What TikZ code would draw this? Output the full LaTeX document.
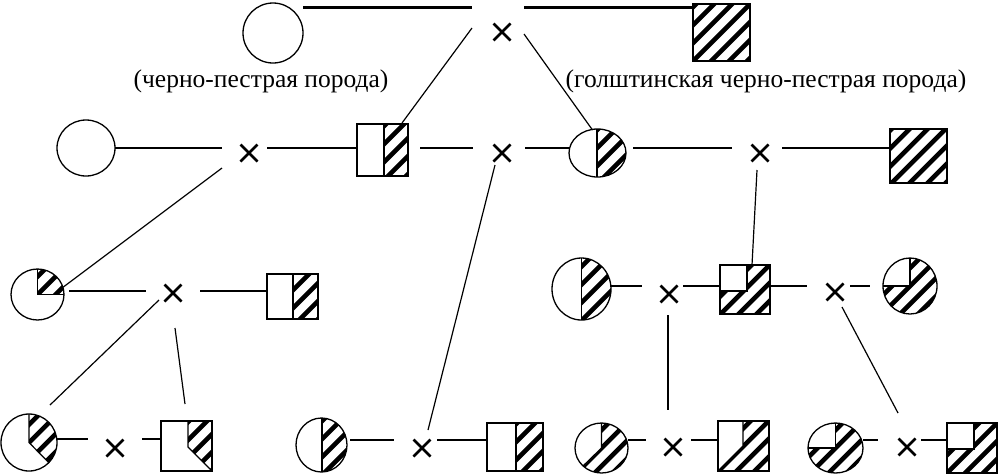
\documentclass[tikz,border=0pt]{standalone}
\usepackage{fontspec}
\setmainfont{Liberation Serif}
\usetikzlibrary{shapes.geometric,shapes.misc,calc}
\tikzset{
  crossmark/.style={cross out, draw, line width=2.6pt, minimum size=17pt, inner sep=0pt, outer sep=0pt},
  sq/.style={rectangle, draw, line width=2pt, inner sep=0pt, outer sep=0pt},
  circ/.style={ellipse, draw, line width=1.3pt, inner sep=0pt, outer sep=0pt},
  conn/.style={line width=1.6pt},
  diag/.style={line width=1.2pt},
  heavy/.style={line width=3pt},
  hatchline/.style={line width=4.6pt},
  divline/.style={line width=1.2pt},
  lbl/.style={font=\fontsize{25.5}{30}\selectfont, inner sep=0pt},
}
\newcommand{\hatchat}[2]{\foreach \k in {-108,-90,...,108}{\draw[hatchline] ({#1+\k-70},{#2+70}) -- ({#1+\k+70},{#2-70});}}
\begin{document}
\begin{tikzpicture}[x=1pt,y=-1pt]
\useasboundingbox (0,0) rectangle (998,475);

% ---------- hatching ----------
\begin{scope}\clip (693,4) rectangle (750,61); \hatchat{721.5}{32.5}\end{scope}
\begin{scope}\clip (384,124) rectangle (408,176); \hatchat{396}{150}\end{scope}
\begin{scope}\clip (597.5,153) ellipse [x radius=28.5, y radius=24]; \clip (597,100) rectangle (640,200); \hatchat{610}{153}\end{scope}
\begin{scope}\clip (890,129) rectangle (947,183); \hatchat{918.5}{156}\end{scope}
\begin{scope}\clip (37.5,294.5) ellipse [x radius=26.5, y radius=25.5]; \clip (37.5,294.5) rectangle (70,260); \hatchat{50}{282}\end{scope}
\begin{scope}\clip (293,274) rectangle (318,319); \hatchat{305}{296}\end{scope}
\begin{scope}\clip (581.5,289) ellipse [x radius=29.5, y radius=31]; \clip (581.5,250) rectangle (620,330); \hatchat{595}{289}\end{scope}
\begin{scope}\clip (720,291) -- (747,291) -- (747,265) -- (770,265) -- (770,314) -- (720,314) -- cycle; \hatchat{745}{289.5}\end{scope}
\begin{scope}\clip (910,286) ellipse [x radius=27, y radius=28]; \clip (910,286) -- (910,250) -- (950,250) -- (950,320) -- (870,320) -- (870,286) -- cycle; \hatchat{910}{286}\end{scope}
\begin{scope}\clip (29,442.5) ellipse [x radius=28, y radius=28.5]; \clip (29,442.5) -- (29,400) -- (80,400) -- (80,493.5) -- cycle; \hatchat{29}{442.5}\end{scope}
\begin{scope}\clip (188,421) -- (212,421) -- (212,471) -- (188,447) -- cycle; \hatchat{200}{446}\end{scope}
\begin{scope}\clip (321.5,445) ellipse [x radius=25.5, y radius=27]; \clip (322,410) rectangle (350,480); \hatchat{334}{445}\end{scope}
\begin{scope}\clip (516,423) rectangle (543,471); \hatchat{529}{447}\end{scope}
\begin{scope}\clip (601.5,448) ellipse [x radius=26.5, y radius=25]; \clip (601.5,448) -- (601.5,410) -- (640,410) -- (640,490) -- (561.5,488) -- cycle; \hatchat{601.5}{448}\end{scope}
\begin{scope}\clip (743,421) -- (769,421) -- (769,471) -- (718,471) -- (743,446) -- cycle; \hatchat{743.5}{446}\end{scope}
\begin{scope}\clip (835.5,448) ellipse [x radius=27.5, y radius=25]; \clip (835.5,448) -- (835.5,410) -- (880,410) -- (880,490) -- (790,490) -- (790,448) -- cycle; \hatchat{835.5}{448}\end{scope}
\begin{scope}\clip (947,449) -- (974,449) -- (974,423) -- (997,423) -- (997,473) -- (947,473) -- cycle; \hatchat{972}{448}\end{scope}

% ---------- shapes ----------
\node[circ, minimum width=60pt, minimum height=60pt] (p1) at (273,33) {};
\node[sq, minimum width=57pt, minimum height=57pt] (p2) at (721.5,32.5) {};
\node[lbl] (l1) at (261,81) {(черно-пестрая порода)};
\node[lbl] (l2) at (766,81) {(голштинская черно-пестрая порода)};

\node[circ, minimum width=58pt, minimum height=56pt] (c2a) at (86,148) {};
\node[sq, minimum width=51pt, minimum height=52pt] (s2a) at (382.5,150) {};
\node[circ, minimum width=57pt, minimum height=48pt] (c2b) at (597.5,153) {};
\node[sq, minimum width=57pt, minimum height=54pt] (s2b) at (918.5,156) {};

\node[circ, minimum width=53pt, minimum height=51pt] (c3a) at (37.5,294.5) {};
\node[sq, minimum width=51pt, minimum height=45pt] (s3a) at (292.5,296.5) {};
\node[circ, minimum width=59pt, minimum height=62pt] (c3b) at (581.5,289) {};
\node[sq, minimum width=50pt, minimum height=49pt] (s3b) at (745,289.5) {};
\node[circ, minimum width=54pt, minimum height=56pt] (c3c) at (910,286) {};

\node[circ, minimum width=56pt, minimum height=57pt] (c4a) at (29,442.5) {};
\node[sq, minimum width=51pt, minimum height=50pt] (s4a) at (186.5,446) {};
\node[circ, minimum width=51pt, minimum height=54pt] (c4b) at (321.5,445) {};
\node[sq, minimum width=56pt, minimum height=48pt] (s4b) at (515,447) {};
\node[circ, minimum width=53pt, minimum height=50pt] (c4c) at (601.5,448) {};
\node[sq, minimum width=51pt, minimum height=50pt] (s4c) at (743.5,446) {};
\node[circ, minimum width=55pt, minimum height=50pt] (c4d) at (835.5,448) {};
\node[sq, minimum width=50pt, minimum height=50pt] (s4d) at (972,448) {};

% ---------- dividers ----------
\draw[divline] (384,124) -- (384,176);
\draw[divline] (597,129) -- (597,177);
\draw[divline] (37.5,269) -- (37.5,294.5) -- (64,294.5);
\draw[divline] (293,274) -- (293,319);
\draw[divline] (581.5,258) -- (581.5,320);
\draw[divline] (720,291) -- (747,291) -- (747,265);
\draw[divline] (883,286) -- (910,286) -- (910,258);
\draw[divline] (29,414) -- (29,442.5) -- (48.8,462.7);
\draw[divline] (188,421) -- (188,447) -- (212,471);
\draw[divline] (322,418) -- (322,472);
\draw[divline] (516,423) -- (516,471);
\draw[divline] (601.5,423) -- (601.5,448) -- (583,466);
\draw[divline] (743,421) -- (743,446) -- (718,471);
\draw[divline] (808,448) -- (835.5,448) -- (835.5,423);
\draw[divline] (947,449) -- (974,449) -- (974,423);

% ---------- crosses ----------
\node[crossmark] (x0) at (502,32) {};
\node[crossmark] (x2a) at (249,153) {};
\node[crossmark] (x2b) at (502,153) {};
\node[crossmark] (x2c) at (760,153) {};
\node[crossmark] (x3a) at (173,293) {};
\node[crossmark] (x3b) at (669,294) {};
\node[crossmark] (x3c) at (835,292) {};
\node[crossmark] (x4a) at (115,448) {};
\node[crossmark] (x4b) at (422,448) {};
\node[crossmark] (x4c) at (673,447) {};
\node[crossmark] (x4d) at (907,447) {};

% ---------- top lines ----------
\draw[heavy] ($(x0)+(-199,-25)$) -- ($(x0)+(-30,-25)$);
\draw[heavy] ($(x0)+(22,-25)$) coordinate (h) -- (h -| p2.west);

% ---------- horizontal connectors ----------
\draw[conn] (c2a.east) -- ($(x2a)+(-27,-5)$);
\draw[conn] ($(x2a)+(18,-5)$) coordinate (h) -- (h -| s2a.west);
\draw[conn] ($(x2b)+(-82,-5)$) -- ($(x2b)+(-29,-5)$);
\draw[conn] ($(x2b)+(23,-5)$) coordinate (h) -- (h -| c2b.west);
\draw[conn] ($(x2c)+(-127,-5)$) -- ($(x2c)+(-28,-5)$);
\draw[conn] ($(x2c)+(22,-5)$) coordinate (h) -- (h -| s2b.west);

\draw[conn] ($(x3a)+(-104,-2)$) -- ($(x3a)+(-27,-2)$);
\draw[conn] ($(x3a)+(27,-2)$) coordinate (h) -- (h -| s3a.west);
\draw[conn] ($(x3b)+(-58,-8)$) -- ($(x3b)+(-27,-8)$);
\draw[conn] ($(x3b)+(14,-8)$) coordinate (h) -- (h -| s3b.west);
\draw[conn] ($(x3c)+(-65,-6)$) -- ($(x3c)+(-28,-6)$);
\draw[conn] ($(x3c)+(15,-6)$) -- ($(x3c)+(35,-6)$);

\draw[conn] ($(x4a)+(-58,-9)$) -- ($(x4a)+(-27,-9)$);
\draw[conn] ($(x4a)+(27,-9)$) coordinate (h) -- (h -| s4a.west);
\draw[conn] ($(x4b)+(-72,-8)$) -- ($(x4b)+(-28,-8)$);
\draw[conn] ($(x4b)+(15,-8)$) coordinate (h) -- (h -| s4b.west);
\draw[conn] ($(x4c)+(-45,-7)$) -- ($(x4c)+(-27,-7)$);
\draw[conn] ($(x4c)+(18,-7)$) coordinate (h) -- (h -| s4c.west);
\draw[conn] ($(x4d)+(-44,-7)$) -- ($(x4d)+(-29,-7)$);
\draw[conn] ($(x4d)+(14,-7)$) coordinate (h) -- (h -| s4d.west);

% ---------- diagonal connectors ----------
\draw[diag] ($(x0)+(-30,-4)$) -- ($(s2a.north east)+(-6,-1)$);
\draw[diag] ($(x0)+(22,2)$) -- ($(c2b.north)+(-5,1)$);
\draw[diag] ($(x2a)+(-27,15)$) -- ($(c3a)+(24.5,-6.5)$);
\draw[diag] ($(x2b)+(-7,12)$) -- ($(x4b)+(6,-18)$);
\draw[diag] ($(x2c)+(-3,17)$) -- ($(s3b.north)+(7,0)$);
\draw[diag] ($(x3a)+(-14,7)$) -- ($(c4a)+(21,-37.5)$);
\draw[diag] ($(x3a)+(2,35)$) -- ($(s4a.north)+(-1.5,-17)$);
\draw[diag] ($(x3b)+(-1,21)$) -- ($(x4c)+(-5,-37)$);
\draw[diag] ($(x3c)+(7,15)$) -- ($(x4d)+(-9,-34)$);
\end{tikzpicture}
\end{document}
